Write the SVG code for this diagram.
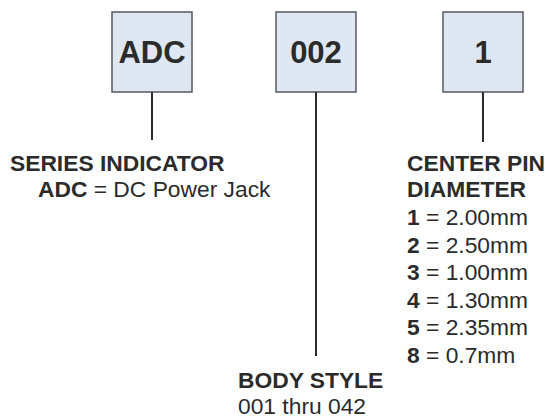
<svg xmlns="http://www.w3.org/2000/svg" width="545" height="420" viewBox="0 0 545 420">
<style>
.box{fill:#dfe7f2;stroke:#58595b;stroke-width:1.5}
.code{font-family:"Liberation Sans",Arial,sans-serif;font-weight:bold;font-size:31px;fill:#2b2b2b;text-anchor:middle}
.lbl{font-family:"Liberation Sans",Arial,sans-serif;font-size:22.8px;fill:#2b2b2b}
.b{font-weight:bold}
.conn{stroke:#2b2b2b;stroke-width:2;fill:none}
</style>
<rect width="545" height="420" fill="#ffffff"/>
<g id="node-adc">
<rect class="box" x="112" y="12" width="80" height="80"/>
<text class="code" x="152" y="63">ADC</text>
</g>
<g id="node-002">
<rect class="box" x="276" y="12" width="80" height="80"/>
<text class="code" x="316" y="63">002</text>
</g>
<g id="node-1">
<rect class="box" x="443" y="12" width="80" height="80"/>
<text class="code" x="483" y="63">1</text>
</g>
<g id="connectors">
<line class="conn" x1="152" y1="92" x2="152" y2="140"/>
<line class="conn" x1="316" y1="92" x2="316" y2="356"/>
<line class="conn" x1="483" y1="92" x2="483" y2="142"/>
</g>
<g id="label-series">
<text class="lbl b" x="10" y="171">SERIES INDICATOR</text>
<text class="lbl" x="38" y="197"><tspan class="b">ADC</tspan> = DC Power Jack</text>
</g>
<g id="label-pin">
<text class="lbl b" x="407" y="171">CENTER PIN</text>
<text class="lbl b" x="407" y="197">DIAMETER</text>
<text class="lbl" x="407" y="225"><tspan class="b">1</tspan> = 2.00mm</text>
<text class="lbl" x="407" y="252.5"><tspan class="b">2</tspan> = 2.50mm</text>
<text class="lbl" x="407" y="280"><tspan class="b">3</tspan> = 1.00mm</text>
<text class="lbl" x="407" y="307.5"><tspan class="b">4</tspan> = 1.30mm</text>
<text class="lbl" x="407" y="335"><tspan class="b">5</tspan> = 2.35mm</text>
<text class="lbl" x="407" y="362.5"><tspan class="b">8</tspan> = 0.7mm</text>
</g>
<g id="label-body">
<text class="lbl b" x="238" y="388">BODY STYLE</text>
<text class="lbl" x="238" y="414">001 thru 042</text>
</g>
</svg>
